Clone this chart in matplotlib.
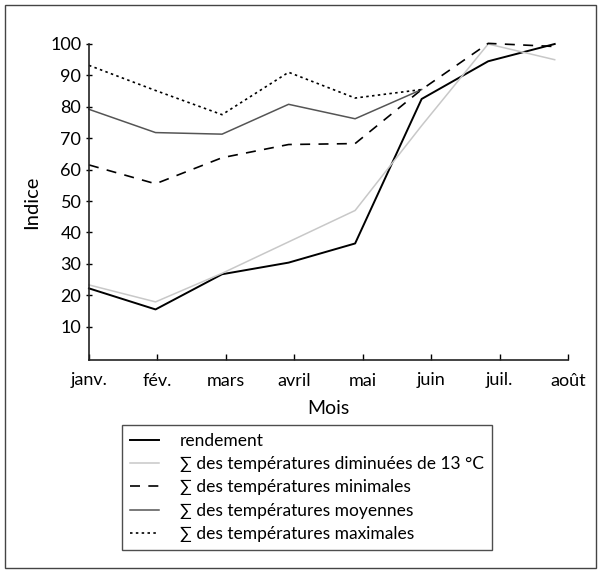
import matplotlib
matplotlib.use("Agg")
import matplotlib.pyplot as plt
import matplotlib.patches as patches
import numpy as np

plt.rcParams['font.family'] = ['Lato', 'DejaVu Sans']

months = ["janv.", "fév.", "mars", "avril", "mai", "juin", "juil.", "août"]
rendement = [22.2, 15.5, 26.7, 30.4, 36.5, 82.5, 94.5, 100.0]
temp13 = [23.3, 17.9, 27.0, 37.0, 47.0, 74.0, 100.0, 95.0]
tmin = [61.5, 55.5, 63.8, 68.0, 68.3, 85.5, 100.2, 99.2]
tmoy = [79.2, 71.8, 71.3, 80.8, 76.2, 85.5, np.nan, np.nan]
tmax = [93.2, 85.2, 77.5, 91.0, 82.8, 85.5, np.nan, np.nan]
labels = ["rendement",
          "∑ des températures diminuées de 13 °C",
          "∑ des températures minimales",
          "∑ des températures moyennes",
          "∑ des températures maximales"]

fig = plt.figure(figsize=(6.01, 5.73), dpi=100)
ax = fig.add_axes([89/601, 1-360/573, (568-89)/601, (360-44)/573])

x = np.arange(len(months))
l1, = ax.plot(x, rendement, color="black", lw=1.4, clip_on=False)
l2, = ax.plot(x, temp13, color="#c8c8c8", lw=1.1, clip_on=False)
l3, = ax.plot(x, tmin, color="black", lw=1.2, dashes=(6, 5), clip_on=False)
l4, = ax.plot(x, tmoy, color="#555555", lw=1.1, clip_on=False)
l5, = ax.plot(x, tmax, color="black", lw=1.2, dashes=(1.5, 2), clip_on=False)

xmax = 7.2
ax.set_xlim(0, xmax)
ax.set_ylim(-0.6, 100)
ax.set_xticks(np.linspace(0, xmax, len(months)))
ax.set_xticklabels(months)
ax.set_yticks(np.arange(10, 101, 10))
for s in ["top", "right"]:
    ax.spines[s].set_visible(False)
ax.spines["left"].set_bounds(-0.6, 100)
for s in ["left", "bottom"]:
    ax.spines[s].set_linewidth(1.2)
    ax.spines[s].set_color("#222222")
ax.tick_params(axis="y", direction="inout", length=5, width=1, labelsize=13, pad=3)
ax.tick_params(axis="x", direction="in", length=4, width=1, labelsize=13, pad=9)
ax.set_xlabel("Mois", fontsize=14, labelpad=8)
ax.set_ylabel("Indice", fontsize=14.5, labelpad=7)

leg = fig.legend([l1, l2, l3, l4, l5], labels, loc="upper left",
                 bbox_to_anchor=(122/601, 1-425/573), frameon=True, fancybox=False,
                 fontsize=12.5, handlelength=1.7, handletextpad=1.2,
                 labelspacing=0.42, borderpad=0.45, borderaxespad=0)
leg.get_frame().set_edgecolor("#222222")
leg.get_frame().set_linewidth(1.0)

fig.patches.append(patches.Rectangle((5/601, 5/573), 591/601, 563/573,
                                     transform=fig.transFigure, fill=False,
                                     edgecolor="#444444", lw=1.0))

fig.savefig("out.png", dpi=100)
